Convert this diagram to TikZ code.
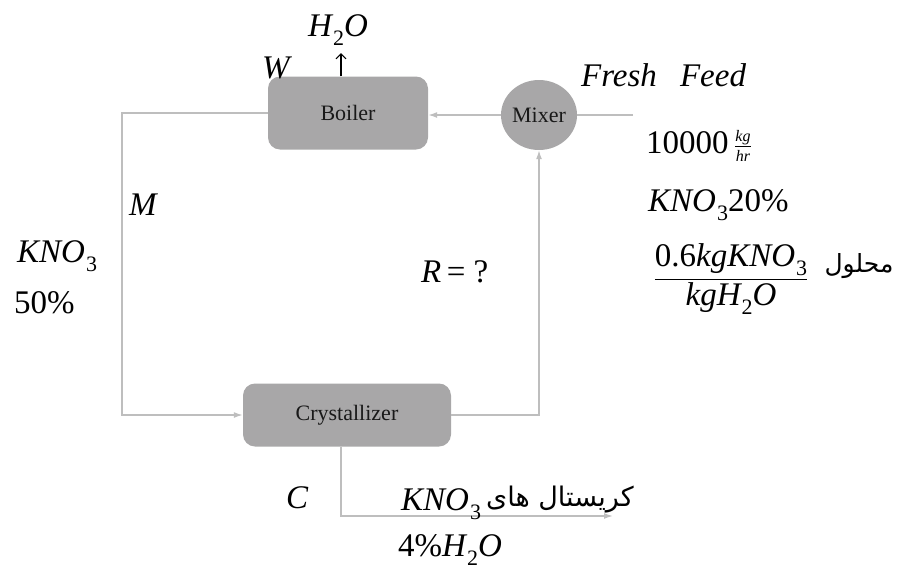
\documentclass[tikz,border=0pt]{standalone}
\usepackage{fontspec}
\setmainfont{Liberation Serif}
\usepackage{amsmath}
\usetikzlibrary{arrows.meta,shapes.geometric}
\TeXXeTstate=1
\newfontfamily\arabicfont[Script=Arabic]{DejaVu Sans}
\definecolor{unitgray}{RGB}{168,167,168}
\definecolor{pipegray}{RGB}{190,190,190}
\newcommand{\chsub}[1]{\hspace{1pt}\raisebox{-9pt}{\fontsize{22}{22}\selectfont\upshape #1}}
\newcommand{\eqfont}{\fontsize{33}{38}\selectfont\itshape}

\begin{document}
\begin{tikzpicture}[
    x=1pt, y=-1pt,
    >=Latex,
    unit/.style={draw=none, fill=unitgray, rounded corners=12pt, text=black!90, font=\fontsize{22}{24}\selectfont, inner sep=0pt},
    mixnode/.style={ellipse, fill=unitgray, minimum width=76pt, minimum height=70pt, inner sep=0pt, text=black!90, font=\fontsize{22}{24}\selectfont},
    pipe/.style={draw=pipegray, line width=1.4pt},
    pipetip/.style={-{Latex[length=9pt,width=6pt]}},
    lab/.style={anchor=base west, inner sep=0pt, font=\eqfont},
    farsi/.style={inner sep=0pt, font=\fontsize{25}{28}\arabicfont}
]
\useasboundingbox (0,0) rectangle (898,571);

\node[unit, minimum width=160pt, minimum height=73pt] (boiler) at (348,113) {Boiler};
\node[unit, minimum width=208pt, minimum height=63pt] (cryst) at (347,415) {Crystallizer};
\node[mixnode] (mixer) at (539,115) {Mixer};
\coordinate (feed) at (633,115);
\coordinate (vapour) at (341,53);
\coordinate (prod) at (613,516);

\draw[pipe, pipetip] (mixer.west) -- (mixer.west -| boiler.east);
\draw[pipe, pipetip] (boiler.west) -- ++(-146,0) |- (cryst.west);
\draw[pipe, pipetip] (cryst.east) -| (mixer.south);
\draw[pipe] (feed) -- (mixer.east);
\draw[pipe, pipetip] ([xshift=-6pt]cryst.south) |- (prod);
\draw[black, line width=1.1pt, -{Straight Barb[length=5pt,width=10pt]}] (boiler.north -| vapour) -- (vapour);

\node[lab] (h2o) at (308,36) {H\chsub{2}O};
\node[lab] (w) at (262,78) {W};
\node[lab] (fresh) at (581,86) {Fresh\hspace{0.7em}Feed};
\node[lab, font=\fontsize{33}{38}\selectfont] (rate) at (646,153) {10000\,$\frac{\mbox{\fontsize{16}{16}\selectfont\itshape kg}}{\mbox{\fontsize{16}{16}\selectfont\itshape hr}}$};
\node[lab] (xfeed) at (648,211) {KNO\chsub{3}{\upshape 20\%}};
\node[font=\eqfont, inner sep=0pt] (ratio) at (731,279) {$\dfrac{\mbox{{\upshape 0.6}kgKNO\chsub{3}}}{\mbox{kgH\chsub{2}O}}$};
\node[farsi] (sol) at (859,266) {\beginR محلول\endR};
\node[lab] (xloop) at (17,262) {KNO\chsub{3}};
\node[lab] (pct) at (14,313) {\upshape 50\%};
\node[lab] (m) at (129,215) {M};
\node[lab] (r) at (421,282) {R\,{\upshape = ?}};
\node[lab] (c) at (286,508) {C};
\node[lab] (xprod) at (401,510) {KNO\chsub{3}};
\node[farsi, anchor=base west, font=\fontsize{27}{30}\arabicfont] (crys) at (486,506) {\beginR کریستال های\endR};
\node[lab] (water) at (398,556) {{\upshape 4\%}H\chsub{2}O};
\end{tikzpicture}
\end{document}
